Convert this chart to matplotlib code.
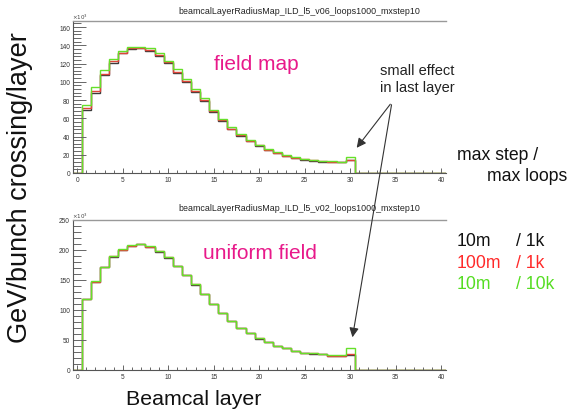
import numpy as np
import matplotlib
matplotlib.use("Agg")
from matplotlib import pyplot as plt
from matplotlib.patches import FancyArrowPatch
from matplotlib.ticker import MultipleLocator

plt.rcParams['font.family'] = ['Liberation Sans', 'DejaVu Sans']

# energy per layer (x10^3 GeV/bunch crossing), layers 1..30
layers = np.arange(1, 31)
field_10m_1k = [69, 88, 107, 121, 131, 135.5, 136.5, 134, 128.7, 121, 110, 100, 89, 79, 67,
                57.5, 48, 41, 35, 30, 25, 21.6, 18.4, 16, 14.5, 13.5, 12.5, 12, 11.7, 13.8]
field_100m_1k = [71, 90, 109, 122.5, 132, 136.5, 137.5, 135, 129.5, 122, 111, 101, 90, 80, 68,
                 58, 48.5, 41.5, 35.5, 30.3, 25.5, 22, 18.8, 16.3, 14.8, 13.8, 12.8, 12.2, 12, 14.6]
field_10m_10k = [74, 94, 112.6, 125.4, 133.5, 138.3, 138, 136.5, 131.3, 123, 113.7, 103, 92, 81.7, 69,
                 59, 50, 43, 36, 31, 26.3, 22.7, 19.7, 17.2, 15.3, 14.2, 13.5, 12.8, 12.4, 17.9]

unif_10m_1k = [118, 147, 171, 189, 200, 207, 209.5, 205.5, 197.5, 187.5, 173.5, 158.5, 142.5, 126, 110,
               95, 82, 70, 61, 52.5, 46, 40.5, 36, 32, 29, 27.5, 26, 24, 23.5, 25]
unif_100m_1k = [118.5, 147.5, 171.5, 189.5, 200.5, 207.5, 209.5, 205.5, 198, 188, 174, 159, 143, 126.5, 110,
                95, 82, 70, 61, 52.8, 46, 40.5, 36, 32, 29, 27.8, 26.3, 24, 22.8, 26.7]
unif_10m_10k = [119, 148, 172, 190, 201, 208, 210, 206, 198, 188, 174, 159, 143, 126.5, 110,
                95, 82, 70, 61, 53, 46, 40.5, 36, 32, 29, 28, 26.7, 25, 24.4, 36.7]

titles = ["beamcalLayerRadiusMap_ILD_l5_v06_loops1000_mxstep10",
          "beamcalLayerRadiusMap_ILD_l5_v02_loops1000_mxstep10"]
labels = ["field map", "uniform field"]
colors = ['#3a3a3a', '#e0453a', '#66e02a']

W, H = 570, 414
def fx(x):
    return x / W
def fy(y):
    return 1 - y / H

fig = plt.figure(figsize=(5.7, 4.14), dpi=100)
edges = np.arange(-0.5, 41.5, 1)

def full(vals):
    return np.concatenate([[0], vals, np.zeros(10)])

panels = [
    (22, 174, 166.6, 20, 4, [field_10m_1k, field_100m_1k, field_10m_10k]),
    (221, 371, 250, 50, 10, [unif_10m_1k, unif_100m_1k, unif_10m_10k]),
]
axes = []
for top, bot, ymax, ymaj, ymin, series in panels:
    ax = fig.add_axes([fx(72.7), fy(bot), (445.7 - 72.7) / W, (bot - top) / H])
    for vals, c in zip(series, colors):
        ax.stairs(full(vals), edges, color=c, lw=1.0, baseline=None)
    ax.set_xlim(-0.5, 40.5)
    ax.set_ylim(0, ymax)
    ax.xaxis.set_major_locator(MultipleLocator(5))
    ax.xaxis.set_minor_locator(MultipleLocator(1))
    ax.yaxis.set_major_locator(MultipleLocator(ymaj))
    ax.yaxis.set_minor_locator(MultipleLocator(ymin))
    ax.tick_params(axis='both', which='both', direction='in', colors='#666',
                   labelcolor='#333', labelsize=4.7, width=0.7)
    ax.tick_params(axis='y', which='major', length=9.5, pad=2)
    ax.tick_params(axis='y', which='minor', length=5.5)
    ax.tick_params(axis='x', which='major', length=3.5, pad=2)
    ax.tick_params(axis='x', which='minor', length=2)
    ax.spines['right'].set_visible(False)
    ax.spines['top'].set_color('#999')
    ax.spines['top'].set_linewidth(1.0)
    for s in ['left', 'bottom']:
        ax.spines[s].set_color('#555')
        ax.spines[s].set_linewidth(0.8)
    ax.set_facecolor('none')
    axes.append(ax)

# panel titles and exponent marks
fig.text(fx(299), fy(12), titles[0], ha='center', va='center', fontsize=6.4, color='#222')
fig.text(fx(299), fy(209), titles[1], ha='center', va='center', fontsize=6.4, color='#222')
fig.text(fx(72), fy(17), r'$\times10^{3}$', ha='left', va='center', fontsize=4, color='#444')
fig.text(fx(72), fy(216), r'$\times10^{3}$', ha='left', va='center', fontsize=4, color='#444')

magenta = '#e8198a'
fig.text(fx(256), fy(64), labels[0], ha='center', va='center', fontsize=15, color=magenta)
fig.text(fx(260), fy(254), labels[1], ha='center', va='center', fontsize=15, color=magenta)

fig.text(fx(20), fy(188), 'GeV/bunch crossing/layer', rotation=90, ha='center', va='center',
         fontsize=19.5, color='#111')
fig.text(fx(194), fy(400), 'Beamcal layer', ha='center', va='center', fontsize=15.4, color='#111')

fig.text(fx(380), fy(79.5), 'small effect\nin last layer', ha='left', va='center', fontsize=10.5,
         color='#222', linespacing=1.25)
for end in [(355, 151), (352, 341)]:
    arr = FancyArrowPatch((fx(392), fy(103)), (fx(end[0]), fy(end[1])), transform=fig.transFigure,
                          arrowstyle='-|>', mutation_scale=14, color='#333', lw=0.8)
    fig.add_artist(arr)

# legend block
fig.text(fx(457), fy(155), 'max step /', ha='left', va='center', fontsize=12.7, color='#111')
fig.text(fx(487), fy(177), 'max loops', ha='left', va='center', fontsize=12.7, color='#111')
steps = ['10m', '100m', '10m']
loops = ['/ 1k', '/ 1k', '/ 10k']
leg_colors = ['#111111', '#ff2a2a', '#55dd22']
for i, (s, l, c) in enumerate(zip(steps, loops, leg_colors)):
    y = 242 + 21.5 * i
    fig.text(fx(457), fy(y), s, ha='left', va='center', fontsize=12.7, color=c)
    fig.text(fx(516), fy(y), l, ha='left', va='center', fontsize=12.7, color=c)

fig.savefig('out.png', dpi=100)
